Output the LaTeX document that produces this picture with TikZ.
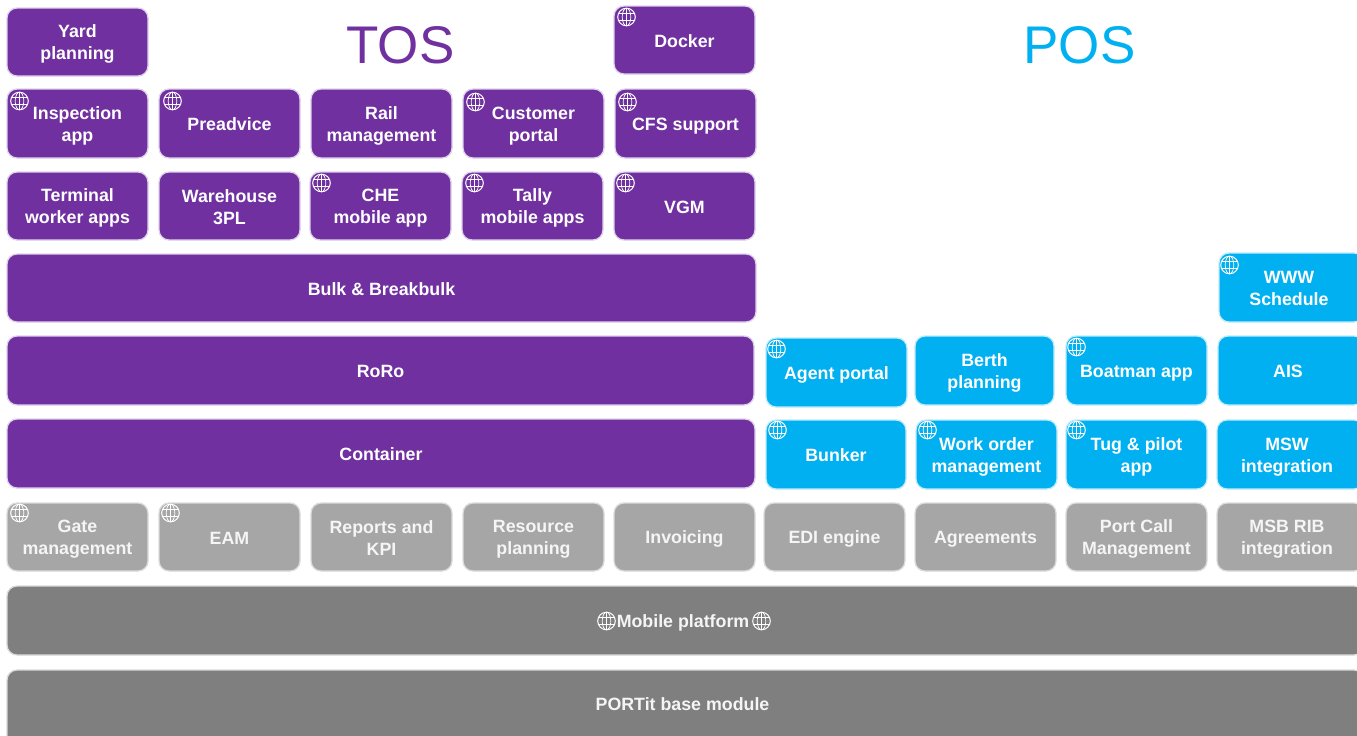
\documentclass[tikz,border=0pt]{standalone}
\usepackage{fontspec}
\setmainfont{Liberation Sans}
\definecolor{tospurple}{HTML}{7030A0}
\definecolor{posblue}{HTML}{00B0F0}
\definecolor{midgray}{HTML}{A6A6A6}
\definecolor{darkgray}{HTML}{7F7F7F}
\newcommand{\fixstrut}{\rule[-3pt]{0pt}{19pt}}
\tikzset{
  module/.style={rounded corners=10pt,line width=1.3pt,inner sep=0pt,align=center,text=white,
    font=\fontsize{17.8}{22}\selectfont\bfseries,
    execute at end node=\fixstrut},
  purplebox/.style={module,fill=tospurple,draw=tospurple!22},
  bluebox/.style={module,fill=posblue,draw=posblue!25},
  graybox/.style={module,fill=midgray,draw=midgray!40,text=white!96!black},
  darkbox/.style={module,fill=darkgray,draw=darkgray!30,text=white!96!black},
  heading/.style={font=\fontsize{53}{60}\selectfont,inner sep=0pt},
  globe/.pic={
    \draw[pic actions,line width=1pt,fill=none] (0,0) circle[radius=8.8];
    \draw[pic actions,line width=.7pt,fill=none] (0,0) ellipse[x radius=4.3,y radius=8.8];
    \draw[pic actions,line width=.7pt] (0,-8.8) -- (0,8.8);
    \draw[pic actions,line width=.7pt] (-7.9,-3.6) -- (7.9,-3.6) (-7.9,3.6) -- (7.9,3.6);
  }
}
\newcommand{\modbox}[7]{%
  \pgfmathsetmacro{\wv}{#5-#3}\pgfmathsetmacro{\hv}{#6-#4}%
  \pgfmathsetmacro{\cxv}{(#3+#5)/2}\pgfmathsetmacro{\cyv}{(#4+#6)/2}%
  \node[#1,minimum width=\wv pt,minimum height=\hv pt] (#2) at (\cxv,\cyv) {\rule{0pt}{17pt}#7};%
}
\newcommand{\globeat}[3][white]{\pic[draw=#1] at (#2+.5,#3) {globe};}
\begin{document}
\begin{tikzpicture}[x=1pt,y=-1pt]
\path[use as bounding box,clip] (0,0) rectangle (1357,736);
\node[heading,text=tospurple] (tos) at (400.5,45) {TOS};
\node[heading,text=posblue] (pos) at (1079.5,45) {POS};
\modbox{purplebox}{yard}{7}{8}{148}{76}{Yard\\planning}
\modbox{purplebox}{docker}{614}{6}{755}{74}{Docker}
\modbox{purplebox}{inspection}{7}{89}{148}{158}{Inspection\\app}
\modbox{purplebox}{preadvice}{159}{89}{300}{158}{Preadvice}
\modbox{purplebox}{rail}{311}{89}{452}{158}{Rail\\management}
\modbox{purplebox}{customer}{463}{89}{604}{158}{Customer\\portal}
\modbox{purplebox}{cfs}{615}{89}{756}{158}{CFS support}
\modbox{purplebox}{terminal}{7}{172}{148}{240}{Terminal\\worker apps}
\modbox{purplebox}{warehouse}{159}{172}{300}{240}{Warehouse\\3PL}
\modbox{purplebox}{che}{310}{172}{451}{240}{CHE\\mobile app}
\modbox{purplebox}{tally}{462}{172}{603}{240}{Tally\\mobile apps}
\modbox{purplebox}{vgm}{614}{172}{755}{240}{VGM}
\modbox{purplebox}{bulk}{7}{254}{756}{322}{Bulk \& Breakbulk}
\modbox{purplebox}{roro}{7}{336}{754}{405}{RoRo}
\modbox{purplebox}{container}{7}{419}{755}{488}{Container}
\modbox{bluebox}{www}{1219}{253}{1364}{322}{\hspace*{-5pt}WWW\\\hspace*{-5pt}Schedule}
\modbox{bluebox}{agent}{766}{338}{907}{407}{Agent portal}
\modbox{bluebox}{berth}{915}{336}{1054}{405}{Berth\\planning}
\modbox{bluebox}{boatman}{1066}{336}{1207}{405}{Boatman app}
\modbox{bluebox}{ais}{1218}{336}{1364}{405}{\hspace*{-6pt}AIS}
\modbox{bluebox}{bunker}{766}{420}{906}{489}{Bunker}
\modbox{bluebox}{workorder}{916}{420}{1057}{489}{Work order\\management}
\modbox{bluebox}{tug}{1066}{420}{1207}{489}{Tug \& pilot\\app}
\modbox{bluebox}{msw}{1217}{420}{1364}{489}{\hspace*{-7pt}MSW\\\hspace*{-7pt}integration}
\modbox{graybox}{gate}{7}{503}{148}{571}{Gate\\management}
\modbox{graybox}{eam}{159}{503}{300}{571}{EAM}
\modbox{graybox}{reports}{311}{503}{452}{571}{Reports and\\KPI}
\modbox{graybox}{resource}{463}{503}{604}{571}{Resource\\planning}
\modbox{graybox}{invoicing}{614}{503}{755}{571}{Invoicing}
\modbox{graybox}{edi}{764}{503}{905}{571}{EDI engine}
\modbox{graybox}{agreements}{915}{503}{1056}{571}{Agreements}
\modbox{graybox}{portcall}{1066}{503}{1207}{571}{Port Call\\Management}
\modbox{graybox}{msb}{1217}{503}{1364}{571}{\hspace*{-7pt}MSB RIB\\\hspace*{-7pt}integration}
\modbox{darkbox}{mobile}{7}{586}{1364}{655}{\hspace*{-5pt}Mobile platform}
\modbox{darkbox}{base}{7}{670}{1364}{750}{\raisebox{9pt}{\hspace*{-6pt}PORTit base module}}
\globeat{19}{101}\globeat{172}{101}\globeat{475}{102}\globeat{627}{102}
\globeat{626}{17}\globeat{321}{183}\globeat{474}{183}\globeat{625}{183}
\globeat{1229}{265}\globeat{776}{349}\globeat{1076}{347}
\globeat{777}{430}\globeat{927}{430}\globeat{1076}{430}
\globeat{19}{513}\globeat{170}{513}
\globeat{606}{621}\globeat{761}{621}
\end{tikzpicture}
\end{document}
